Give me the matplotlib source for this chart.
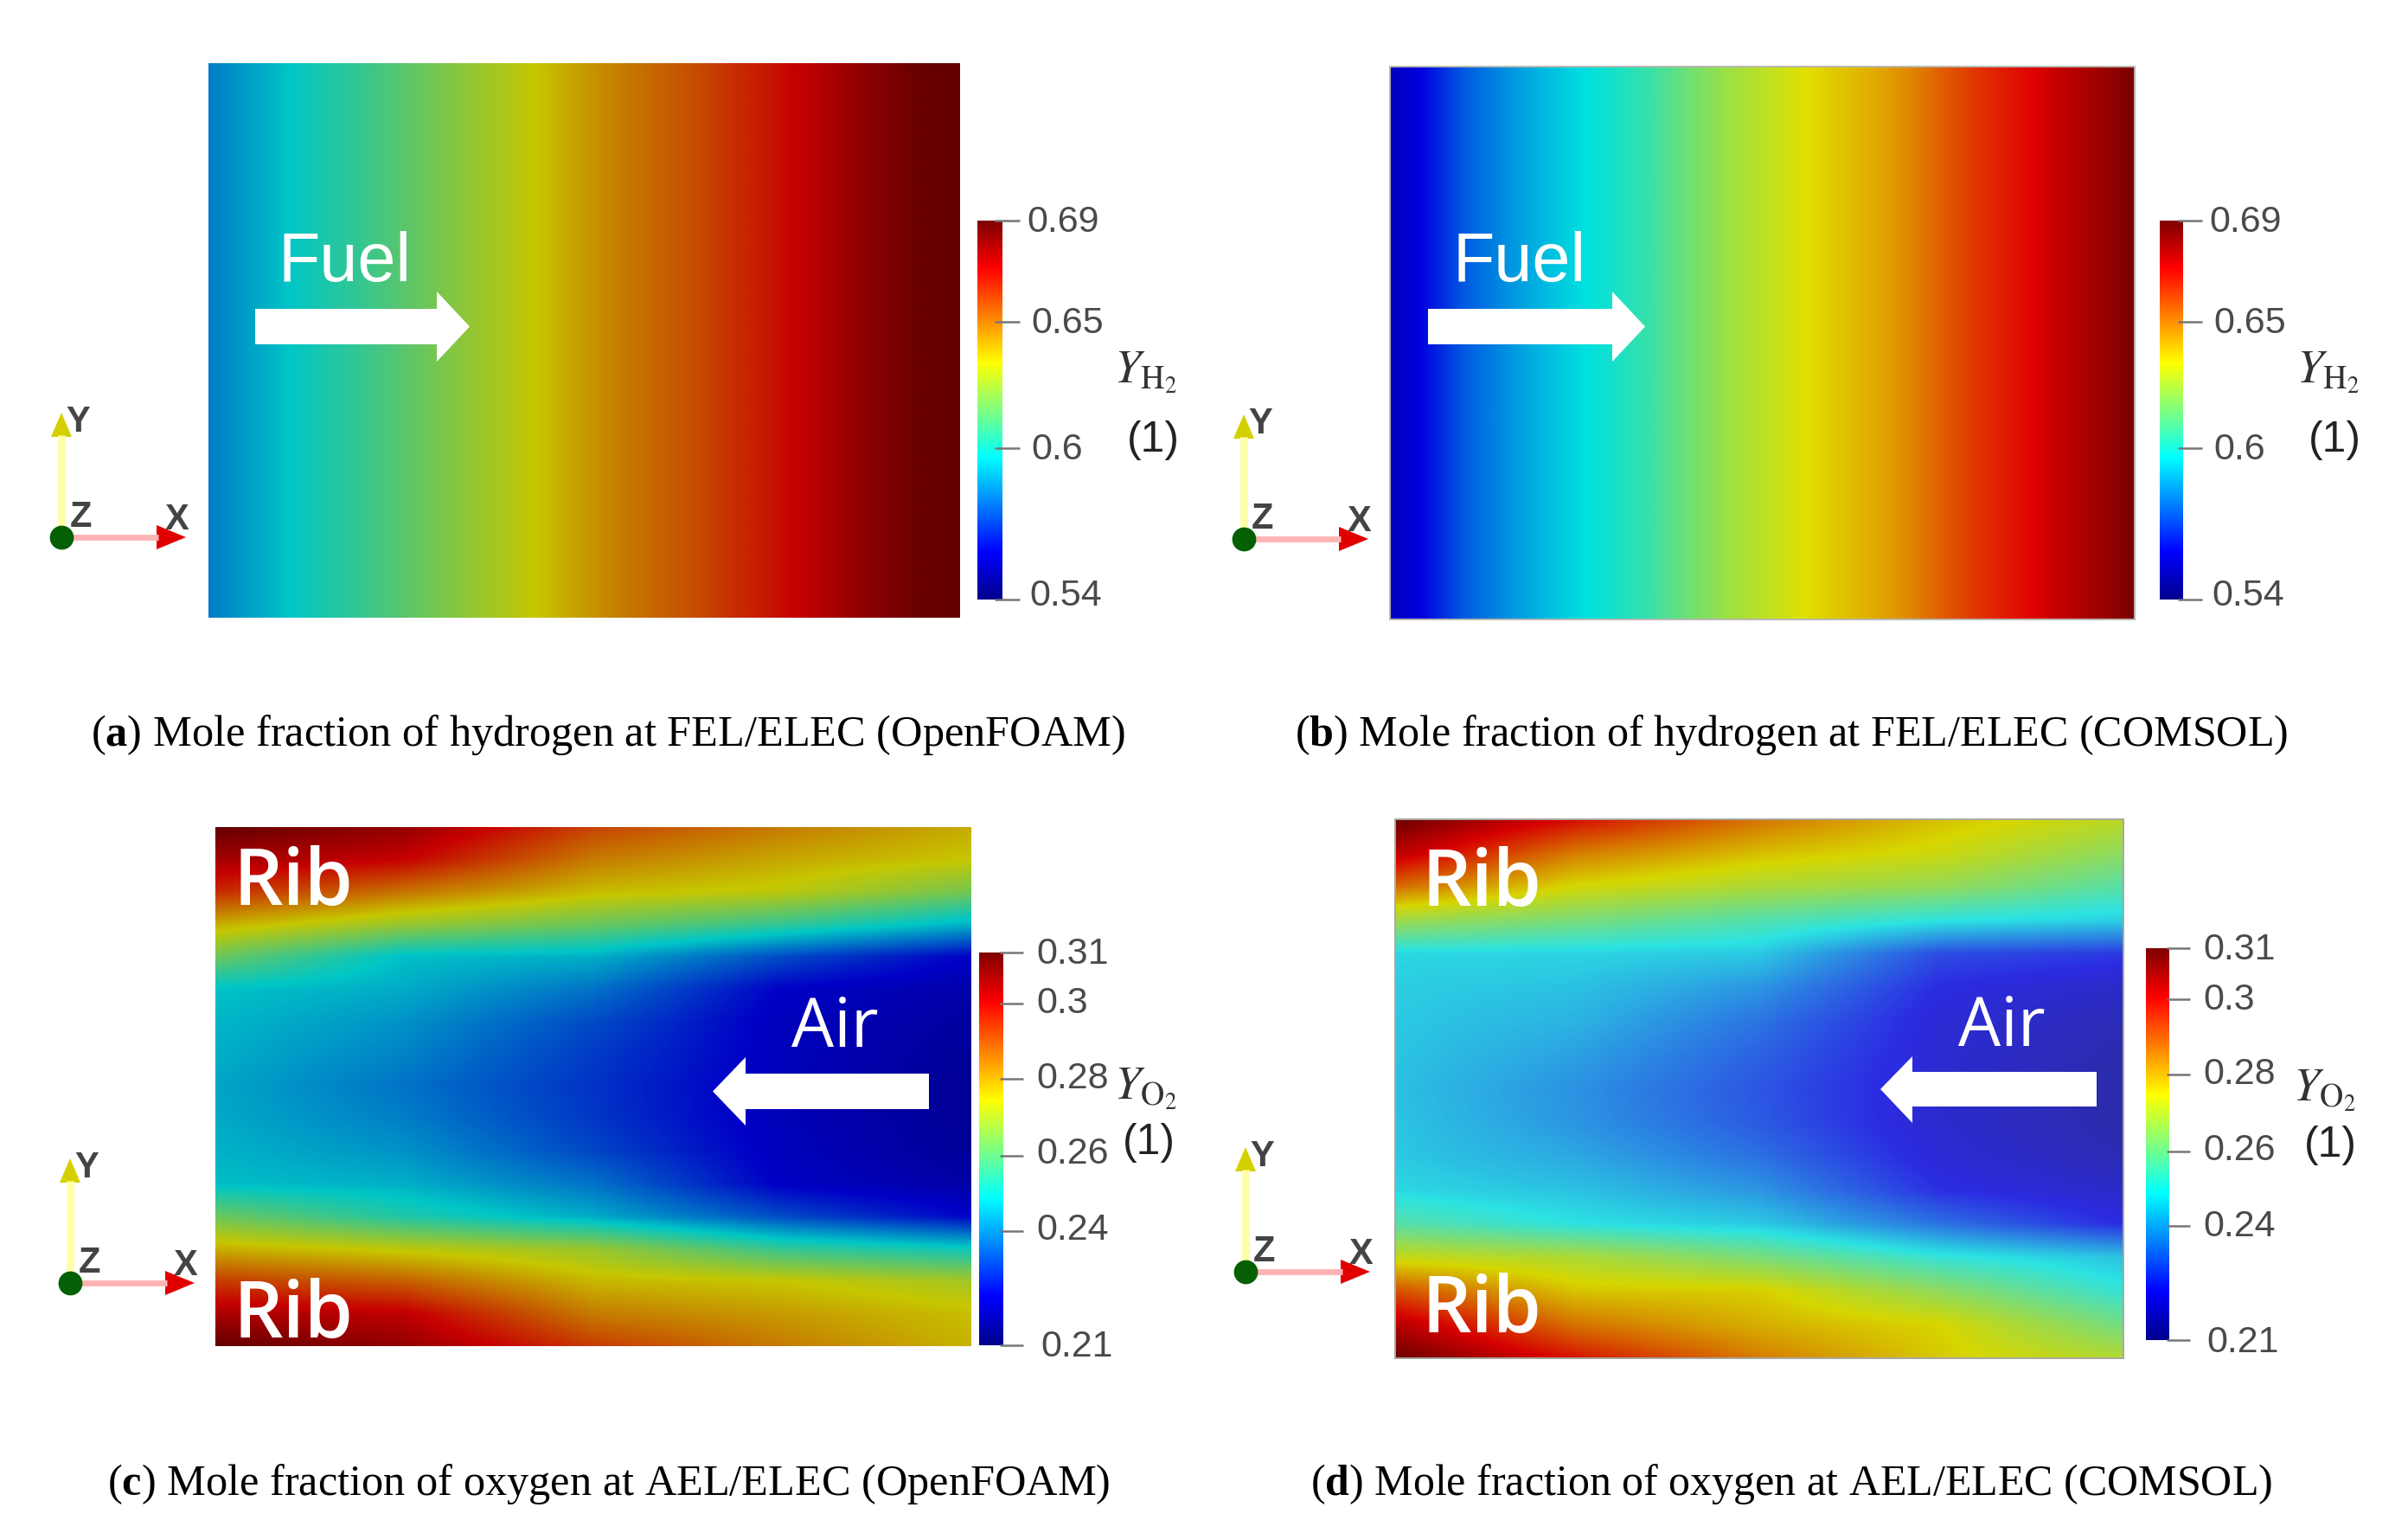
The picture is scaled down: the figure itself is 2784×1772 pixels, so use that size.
import numpy as np
import matplotlib
matplotlib.use("Agg")
import matplotlib.pyplot as plt
from matplotlib.cm import ScalarMappable
from matplotlib.colors import LinearSegmentedColormap, Normalize
from matplotlib.patches import Polygon
from matplotlib.transforms import Affine2D

W, H = 2784, 1772

# mole fraction read across the channel, left to right, every 5 % of the width
h2_openfoam = [0.582, 0.5885, 0.595, 0.601, 0.606, 0.612, 0.618, 0.624, 0.6295, 0.6355, 0.642,
               0.648, 0.6525, 0.657, 0.6625, 0.6675, 0.6735, 0.6795, 0.6845, 0.689, 0.690]
h2_comsol = [0.552, 0.561, 0.574, 0.582, 0.589, 0.595, 0.600, 0.606, 0.6145, 0.622, 0.6275,
             0.633, 0.638, 0.6425, 0.649, 0.657, 0.664, 0.6695, 0.676, 0.682, 0.6885]

# oxygen, one list per column (0, 25, 50, 75, 100 % of width), 17 rows top to bottom
o2_openfoam_0 = [.310, .302, .292, .276, .261, .247, .2455, .2445, .2435, .244, .245, .2465, .261, .2755, .290, .301, .310]
o2_openfoam_25 = [.304, .2975, .283, .2665, .2465, .244, .241, .239, .237, .2385, .241, .2445, .2515, .271, .2855, .2985, .304]
o2_openfoam_50 = [.289, .282, .274, .261, .2445, .237, .232, .230, .229, .2295, .2315, .237, .244, .2665, .2745, .282, .290]
o2_openfoam_75 = [.282, .2765, .271, .254, .232, .2225, .221, .221, .2205, .2205, .221, .222, .232, .254, .2725, .278, .282]
o2_openfoam_100 = [.276, .2725, .262, .245, .2225, .2185, .217, .216, .2155, .2155, .216, .218, .223, .249, .268, .2735, .275]

o2_comsol_0 = [.31, .301, .285, .2645, .246, .2445, .244, .2435, .243, .2435, .244, .246, .254, .27, .288, .3015, .31]
o2_comsol_25 = [.296, .283, .272, .259, .2455, .243, .241, .2385, .2365, .237, .2395, .243, .2475, .2665, .2745, .284, .295]
o2_comsol_50 = [.284, .2755, .2665, .2535, .244, .237, .2325, .23, .2285, .229, .232, .237, .244, .259, .2735, .277, .283]
o2_comsol_75 = [.275, .271, .263, .248, .227, .2225, .2205, .22, .2195, .2195, .2205, .223, .232, .249, .262, .2725, .274]
o2_comsol_100 = [.2685, .262, .254, .245, .2245, .2185, .216, .2145, .214, .214, .2155, .2185, .2225, .243, .249, .258, .267]

# colour bar ticks: where they sit on the bar, and what they say
h2_ticks_ = [0.69, 0.65, 0.6, 0.54]
h2_tick_labels = ["0.69", "0.65", "0.6", "0.54"]
o2_ticks_c = [0.31, 0.297, 0.2778, 0.2582, 0.2391, 0.21]
o2_ticks_d = [0.31, 0.297, 0.2778, 0.2582, 0.2391, 0.21]
o2_tick_labels = ["0.31", "0.3", "0.28", "0.26", "0.24", "0.21"]

captions = [r"($\mathbf{a}$) Mole fraction of hydrogen at FEL/ELEC (OpenFOAM)",
            r"($\mathbf{b}$) Mole fraction of hydrogen at FEL/ELEC (COMSOL)",
            r"($\mathbf{c}$) Mole fraction of oxygen at AEL/ELEC (OpenFOAM)",
            r"($\mathbf{d}$) Mole fraction of oxygen at AEL/ELEC (COMSOL)"]

plt.rcParams["font.family"] = ["Liberation Sans", "DejaVu Sans"]
plt.rcParams["mathtext.fontset"] = "custom"
plt.rcParams["mathtext.rm"] = "Liberation Serif"
plt.rcParams["mathtext.bf"] = "Liberation Serif:bold"

DARK = "#4a4a4a"
TICK = "#767676"


def jet_like(warm=1.0, cold=None, offset=0.0):
    # panels a-d are dimmed or washed out screenshots of the same map
    if cold is None:
        cold = warm
    nodes = [0, 0.125, 0.375, 0.625, 0.875, 1]
    cols = [(0, 0, 0.55), (0, 0, 1), (0, 1, 1), (1, 1, 0), (1, 0, 0), (0.5, 0, 0)]
    out = []
    for i, col in enumerate(cols):
        if i < 3:
            out.append(tuple(c * cold + offset for c in col))
        else:
            out.append(tuple(c * warm for c in col))
    return LinearSegmentedColormap.from_list("jetlike", list(zip(nodes, out)), N=512)


fig = plt.figure(figsize=(W / 100, H / 100), dpi=100)


def px_axes(x0, y0, x1, y1):
    return fig.add_axes([x0 / W, 1 - y1 / H, (x1 - x0) / W, (y1 - y0) / H])


def field(box, data, vmin, vmax, cmap, edge=None):
    ax = px_axes(*box)
    data = np.array(data)
    dx = 0.5 / (data.shape[1] - 1)
    dy = 0.5 / max(data.shape[0] - 1, 1)
    ax.imshow(data, extent=[-dx, 1 + dx, 1 + dy, -dy], aspect="auto", cmap=cmap, vmin=vmin, vmax=vmax,
              interpolation="bilinear", interpolation_stage="data")
    ax.set_xlim(0, 1)
    ax.set_ylim(1, 0)
    ax.set_xticks([])
    ax.set_yticks([])
    for s in ax.spines.values():
        if edge:
            s.set_color(edge)
            s.set_linewidth(1.4)
        else:
            s.set_visible(False)
    return ax


def bar(box, vmin, vmax, ticks, labels, label_left, lift, tick_x):
    cax = px_axes(*box)
    cb = fig.colorbar(ScalarMappable(Normalize(vmin, vmax), jet_like()), cax=cax)
    cb.outline.set_visible(False)
    cax.set_ylim(vmin, vmax)
    cb.set_ticks(ticks, labels=labels)
    cb.minorticks_off()
    cax.tick_params(axis="y", length=0, pad=0, labelsize=31, labelcolor=DARK, right=False, labelright=True)
    w = box[2] - box[0]
    for t, left, up in zip(cax.yaxis.get_major_ticks(), label_left, lift):
        t.label2.set_x(1 + (left - box[2]) / w)
        t.label2.set_transform(t.label2.get_transform() + Affine2D().translate(0, up))
    cax.hlines(ticks, (tick_x[0] - box[0]) / w, (tick_x[1] - box[0]) / w, color=TICK, lw=1.8,
               transform=cax.get_yaxis_transform(), clip_on=False)
    cax.set_ylim(vmin, vmax)


def o2_grid(*cols):
    return np.array(cols).T


field((241, 73, 1110, 714), [h2_openfoam], 0.54, 0.69, jet_like(0.78))
field((1607, 77, 2468, 716), [h2_comsol], 0.54, 0.69, jet_like(0.88), edge="#b8b8b0")
field((249, 956, 1122, 1556), o2_grid(o2_openfoam_0, o2_openfoam_25, o2_openfoam_50, o2_openfoam_75, o2_openfoam_100),
      0.21, 0.31, jet_like(0.78))
field((1613, 947, 2455, 1570), o2_grid(o2_comsol_0, o2_comsol_25, o2_comsol_50, o2_comsol_75, o2_comsol_100),
      0.21, 0.31, jet_like(0.84, 0.72, 0.17), edge="#a8a8a0")

bar((1130, 255, 1159, 693), 0.54, 0.69, h2_ticks_, h2_tick_labels, [1187, 1192, 1192, 1190], [2, 2, 2, 9], (1150, 1179))
bar((2497, 255, 2524, 693), 0.54, 0.69, h2_ticks_, h2_tick_labels, [2554, 2559, 2559, 2557], [2, 2, 2, 9], (2518, 2546))
bar((1132, 1101, 1160, 1555), 0.21, 0.31, o2_ticks_c, o2_tick_labels, [1198, 1198, 1198, 1198, 1198, 1203],
    [2, 5, 5, 7, 5, 2], (1156, 1183))
bar((2481, 1096, 2508, 1549), 0.21, 0.31, o2_ticks_d, o2_tick_labels, [2547, 2547, 2547, 2547, 2547, 2551],
    [3, 3, 4, 5, 4, 2], (2505, 2532))

# everything else goes on a transparent sheet in pixel coordinates
sheet = fig.add_axes([0, 0, 1, 1], zorder=5)
sheet.set_xlim(0, W)
sheet.set_ylim(H, 0)
sheet.axis("off")
sheet.patch.set_alpha(0)


def block_arrow(x0, x1, tip, y0, y1, head0, head1):
    ym = (y0 + y1) / 2
    sheet.add_patch(Polygon([(x0, y0), (x1, y0), (x1, head0), (tip, ym), (x1, head1), (x1, y1), (x0, y1)],
                            closed=True, fc="white", ec="none"))


def word(x, y, s, size, family="Liberation Sans", weight="normal"):
    sheet.text(x, y, s, color="white", fontsize=size, family=family, fontweight=weight, ha="left", va="baseline")


block_arrow(295, 505, 543, 357, 398, 337, 418)
block_arrow(1651, 1864, 1902, 357, 398, 337, 418)
block_arrow(1074, 862, 824, 1241, 1282, 1222, 1301)
block_arrow(2424, 2211, 2174, 1239, 1279, 1221, 1298)

word(322, 325, "Fuel", 57)
word(1680, 325, "Fuel", 57)
word(270, 1046, "Rib", 65, "Open Sans", "semibold")
word(270, 1546, "Rib", 65, "Open Sans", "semibold")
word(1643, 1047, "Rib", 65, "Open Sans", "semibold")
word(1643, 1540, "Rib", 65, "Open Sans", "semibold")
word(915, 1210, "Air", 56, "Open Sans")
word(2264, 1209, "Air", 56, "Open Sans")

# small x/y/z triads
for ox, oy in [(71, 621), (1438, 623), (81, 1483), (1440, 1470)]:
    sheet.plot([ox, ox], [oy, oy - 118], color="#ffffa8", lw=6.5, solid_capstyle="butt")
    sheet.plot([ox, ox + 112], [oy, oy], color="#ffb4b4", lw=5, solid_capstyle="butt")
    sheet.add_patch(Polygon([(ox - 12, oy - 116), (ox + 12, oy - 116), (ox, oy - 144)], fc="#d4d000", ec="none"))
    sheet.add_patch(Polygon([(ox + 110, oy - 14), (ox + 110, oy + 14), (ox + 144, oy)], fc="#e00000", ec="none"))
    sheet.plot([ox], [oy], "o", color="#056005", ms=20, mew=0)
    for dx, dy, s in [(19, -133, "Y"), (22, -23, "Z"), (134, -20, "X")]:
        sheet.text(ox + dx, oy + dy, s, color="#444444", fontsize=30, fontweight="bold", ha="center", va="center")

# colour bar titles
for x, y, s in [(1288, 443, r"$Y_{\mathrm{H_2}}$"), (2655, 443, r"$Y_{\mathrm{H_2}}$"),
                (1288, 1271, r"$Y_{\mathrm{O_2}}$"), (2651, 1273, r"$Y_{\mathrm{O_2}}$")]:
    sheet.text(x, y, s, color="#333333", fontsize=39, math_fontfamily="stix", ha="left", va="baseline")
for x, y in [(1333, 509), (2699, 509), (1328, 1321), (2694, 1324)]:
    sheet.text(x, y, "(1)", color="#222222", fontsize=36, ha="center", va="center")

# sub captions
for x, y, s, size in zip([105, 1497, 124, 1515], [862, 862, 1728, 1728], captions, [36.3, 36.1, 36.3, 36.0]):
    sheet.text(x, y, s, color="black", fontsize=size, family="Liberation Serif", math_fontfamily="custom",
               ha="left", va="baseline")

fig.savefig("out.png", dpi=100, facecolor="white")
